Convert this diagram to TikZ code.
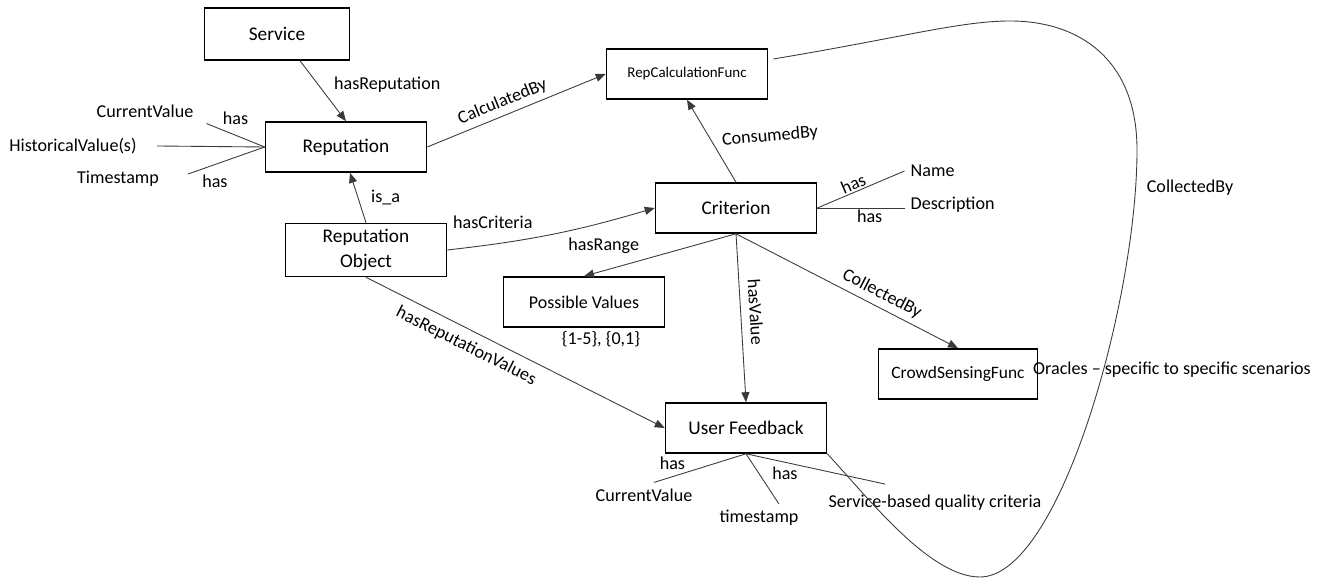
\documentclass[tikz,border=0pt]{standalone}
\usepackage{fontspec}
\setmainfont{Carlito}
\usetikzlibrary{arrows.meta,calc}
\definecolor{linegray}{HTML}{3A3A3A}

\begin{document}
\begin{tikzpicture}[
  font=\fontsize{10.3pt}{13pt}\selectfont,
  concept/.style={draw,line width=0.9pt,minimum width=3.22cm,minimum height=1cm,align=center,
    font=\fontsize{11pt}{14pt}\selectfont},
  rel/.style={draw=linegray,line width=0.5pt},
  arr/.style={rel,-{Triangle[length=2mm,width=1.6mm]}},
  lbl/.style={inner sep=3pt}
]
  \useasboundingbox (0,0) rectangle (26.8,11.58);

  % concept boxes
  \node[concept,minimum width=2.9cm,minimum height=1.04cm] (svc) at (5.54,10.9) {Service};
  \node[concept] (rep) at (6.92,8.64) {Reputation};
  \node[concept,font=\fontsize{8.5pt}{10pt}\selectfont] (rcf) at (13.74,10.1) {RepCalculationFunc};
  \node[concept] (crit) at (14.72,7.42) {Criterion};
  \node[concept] (ro) at (7.32,6.58) {Reputation\\Object};
  \node[concept,font=\fontsize{10.2pt}{12pt}\selectfont] (pv) at (11.68,5.54) {Possible Values};
  \node[concept,minimum width=3.18cm,font=\fontsize{9.9pt}{12pt}\selectfont] (csf) at (19.16,4.1) {CrowdSensingFunc};
  \node[concept] (uf) at (14.92,3.02) {User Feedback};

  % relations between concepts
  \draw[arr] ([xshift=4.6mm]svc.south) -- node[lbl,pos=0.4,right=2mm] {hasReputation} (rep.north);
  \draw[arr] (rep.east) -- node[lbl,sloped,above,pos=0.45] {CalculatedBy} (rcf.west);
  \draw[arr] (crit.north) -- node[lbl,pos=0.5,right=1mm,rotate=5] {ConsumedBy} (rcf.south);
  \draw[arr] (ro.north) -- node[lbl,pos=0.5,right=1.5mm] {is\_a} ([xshift=0.8mm]rep.south);
  \draw[arr] (ro.east) to[bend right=5] node[lbl,pos=0.2,above=2mm] {hasCriteria} (crit.west);
  \draw[arr] (crit.south) -- node[lbl,pos=0.6,above left=0pt] {hasRange} (pv.north);
  \draw[arr] (crit.south) -- node[lbl,sloped,above=0.6mm,pos=0.47] {hasValue} (uf.north);
  \draw[arr] (crit.south) -- node[lbl,sloped,above,pos=0.63] {CollectedBy} (csf.north);
  \draw[arr] (ro.south) -- node[lbl,sloped,below=0.6mm,pos=0.36] {hasReputationValues} (uf.west);

  % attributes of Reputation
  \node (cv) at (2.9,9.36) {CurrentValue};
  \node (hv) at (1.46,8.66) {HistoricalValue(s)};
  \node (ts) at (2.36,8.0) {Timestamp};
  \draw[rel] (rep.west) -- node[lbl,pos=0.5,above=1mm] {has} ([xshift=1.4mm]cv.south east);
  \draw[rel] (rep.west) -- ([xshift=2.8mm]hv.east);
  \draw[rel] (rep.west) -- node[lbl,pos=0.65,below=1mm] {has} ([xshift=4.6mm,yshift=1mm]ts.east);

  % attributes of Criterion
  \node[anchor=west] (name) at (18.09,8.16) {Name};
  \node[anchor=west] (desc) at (18.09,7.48) {Description};
  \draw[rel] (crit.east) -- node[sloped,above,pos=0.45,inner sep=1pt] {has} (name.west);
  \draw[rel] (crit.east) -- node[below,pos=0.6,inner sep=1pt] {has} (crit.east -| desc.west);

  % attributes of User Feedback
  \node (cv2) at (12.88,1.68) {CurrentValue};
  \node (ts2) at (15.18,1.22) {timestamp};
  \node (sq) at (18.7,1.52) {Service-based quality criteria};
  \draw[rel] (uf.south) -- node[pos=0.8,above=1mm,inner sep=1pt] {has} ([xshift=2mm]cv2.north);
  \draw[rel] (uf.south) -- ([xshift=4mm]ts2.north);
  \draw[rel] (uf.south) -- node[pos=0.28,below=0.5mm,inner sep=1pt] {has} ([xshift=-1cm,yshift=1mm]sq.north);

  % value range and oracle note
  \node (range) at (12.02,4.8) {\{1-5\}, \{0,1\}};
  \node (orcl) at (23.44,4.18) {Oracles – specific to specific scenarios};

  % feedback loop back to the calculation function
  \draw[rel] ([xshift=1mm,yshift=3mm]rcf.east) .. controls (18.0,10.82) and (19.2,11.16) .. (20.2,11.16)
    .. controls (21.6,11.16) and (22.74,10.38) .. (22.74,8.58)
    .. controls (22.74,5.58) and (21.2,0.04) .. (19.6,0.04)
    .. controls (18.6,0.04) and (17.4,1.58) .. (uf.south east);
  \node (coll) at (23.8,7.82) {CollectedBy};
\end{tikzpicture}
\end{document}
